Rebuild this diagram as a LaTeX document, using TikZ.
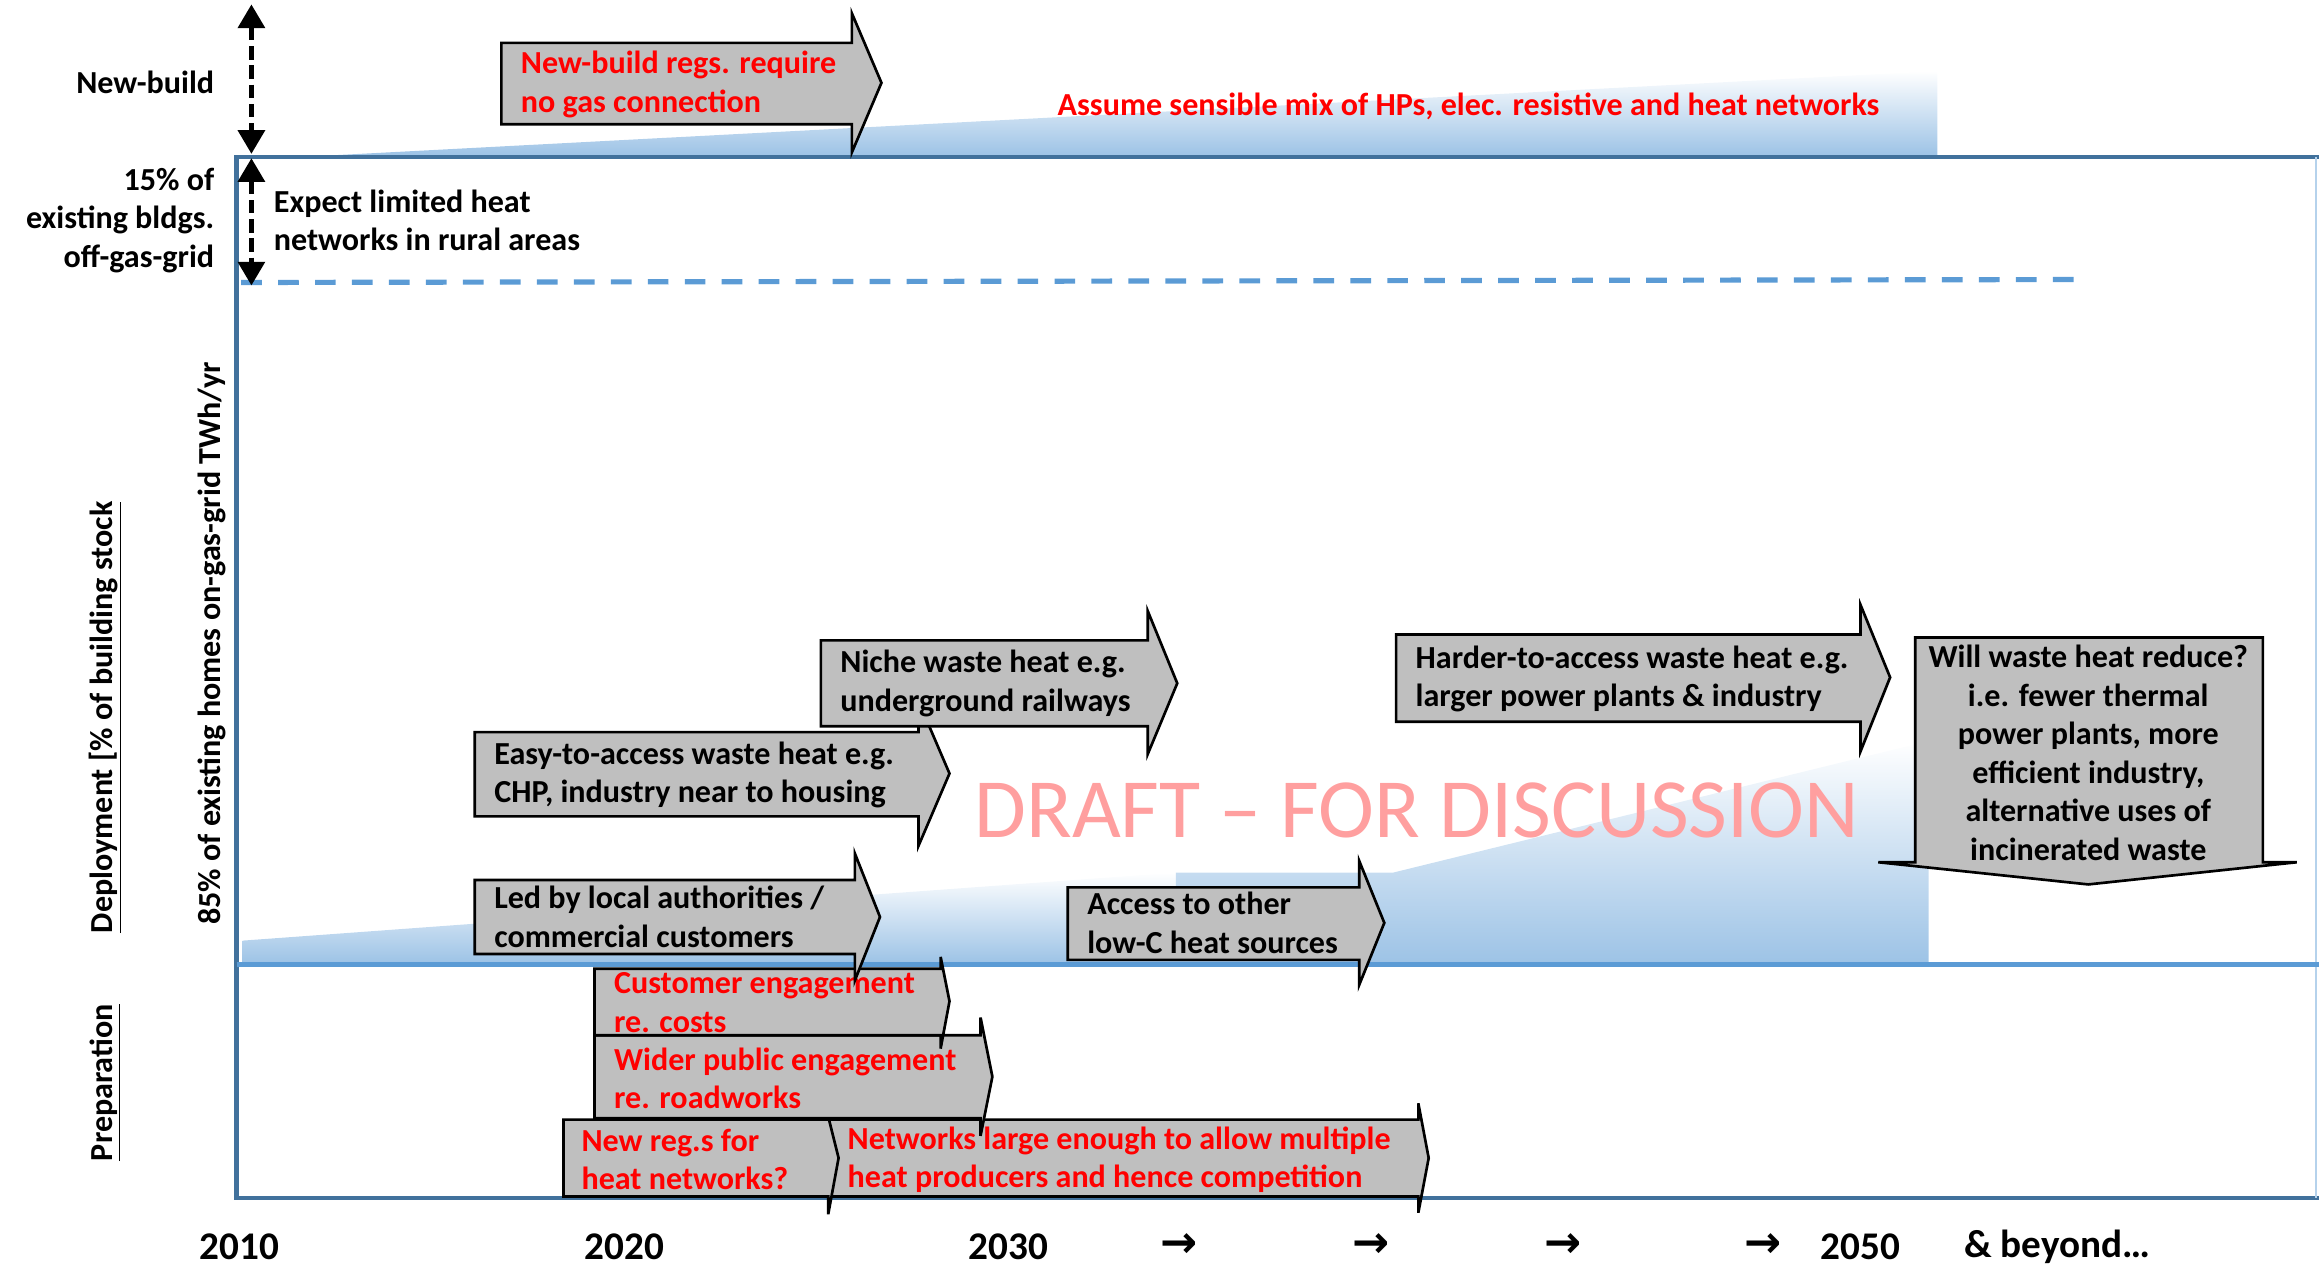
\documentclass[tikz,border=0pt]{standalone}
\usepackage{fontspec}
\setmainfont{Carlito}
\newfontfamily\arrowfont{DejaVu Sans}
\usetikzlibrary{arrows.meta}

\definecolor{framedark}{HTML}{41719C}
\definecolor{framelight}{HTML}{5B9BD5}
\definecolor{shadeblue}{HTML}{9DC3E6}
\definecolor{boxgray}{HTML}{BFBFBF}
\definecolor{draftpink}{HTML}{FF9F9F}
\definecolor{labelred}{HTML}{FF0000}

\newcommand\lblfont{\fontsize{21.7}{26}\selectfont\bfseries}
\newcommand\yearfont{\fontsize{26.5}{30}\selectfont\bfseries}

% right-pointing block arrow: x1 x2 xtip ytop ybot flangetop flangebot ytip
\newcommand\rightblock[8]{%
  \filldraw[blockstyle] (#1,#4) -- (#2,#4) -- (#2,#6) -- (#3,#8) -- (#2,#7)
    -- (#2,#5) -- (#1,#5) -- cycle;}

\tikzset{
  blockstyle/.style={fill=boxgray, draw=black, line width=1.8pt, line join=miter},
  lbl/.style={font=\lblfont, inner sep=0pt, align=left, anchor=west, text=black},
  redlbl/.style={lbl, text=labelred},
  sidelbl/.style={lbl, rotate=90, anchor=center, align=center},
  yearlbl/.style={font=\yearfont, inner sep=0pt, anchor=center},
  steparrow/.style={font=\arrowfont\bfseries\fontsize{30}{34}\selectfont, inner sep=1pt,
    anchor=center},
  dasharrow/.style={black, line width=3pt, dash pattern=on 9pt off 4pt,
    {Triangle[length=16pt,width=18pt]}-{Triangle[length=16pt,width=18pt]}},
  rampshade/.style={top color=white, bottom color=shadeblue, draw=none}
}

\begin{document}
\begin{tikzpicture}[x=1pt, y=-1pt]
\useasboundingbox (0,0) rectangle (1568,857);

% rising deployment wedges
\shade[rampshade] (225,105) -- (1310,48) -- (1310,105) -- cycle;
\shade[rampshade] (164,636) -- (795,590) -- (795,651) -- (164,651) -- cycle;
\shade[rampshade] (795,590) -- (942,590) -- (1304,501) -- (1304,651) -- (795,651) -- cycle;

% boundary between off-gas-grid and on-gas-grid stock
\coordinate (gridL) at (163,191);
\coordinate (gridR) at (1405,189);
\draw[framelight, line width=3.5pt, dash pattern=on 14pt off 11pt] (gridL) -- (gridR);

% chart frame
\draw[framedark, line width=3pt] (1568,106) -- (160,106) -- (160,810) -- (1568,810);
\draw[framelight!45, line width=0.8pt] (1566,106) -- (1566,810);
\draw[framelight, line width=3pt] (160,652) -- (1568,652);

% watermark
\node[font=\fontsize{57}{60}\selectfont, text=draftpink, inner sep=0pt] (draft) at (958,548) {DRAFT – FOR DISCUSSION};

% vertical extent markers
\coordinate (nbtop) at (170,3);
\coordinate (nbbot) at (170,104);
\coordinate (ogtop) at (170,107);
\coordinate (ogbot) at (170,193);
\draw[dasharrow] (nbtop) -- (nbbot);
\draw[dasharrow] (ogtop) -- (ogbot);

% row labels
\node[lbl, anchor=east, align=right] (newbuild) at (145,56) {New-build};
\node[lbl, anchor=east, align=right] (offgas) at (145,149) {15\% of\\existing bldgs.\\off-gas-grid};
\node[lbl] (rural) at (185,149) {Expect limited heat\\networks in rural areas};
\node[sidelbl] (deploy) at (71,485) {\underline{Deployment [\% of building stock}};
\node[sidelbl] (onggrid) at (143,435) {85\% of existing homes on-gas-grid TWh/yr};
\node[sidelbl] (prep) at (71,732) {\underline{Preparation}};

% new-build
\rightblock{339}{576}{596}{29}{84}{9}{103}{56}
\node[redlbl] (nbregs) at (352,57) {New-build regs. require\\no gas connection};
\node[redlbl, anchor=center] (mix) at (993,72) {Assume sensible mix of HPs, elec. resistive and heat networks};

% deployment
\rightblock{321}{621}{642}{495}{552}{474}{572}{523}
\node[lbl] (easy) at (334,524) {Easy-to-access waste heat e.g.\\CHP, industry near to housing};
\rightblock{555}{776}{796}{433}{491}{413}{510}{462}
\node[lbl] (niche) at (568,462) {Niche waste heat e.g.\\underground railways};
\rightblock{944}{1258}{1278}{429}{488}{409}{508}{458}
\node[lbl] (harder) at (957,459) {Harder-to-access waste heat e.g.\\larger power plants \& industry};
\filldraw[blockstyle] (1295,431) -- (1530,431) -- (1530,583) -- (1553,583) -- (1412,598)
  -- (1270,583) -- (1295,583) -- cycle;
\node[lbl, anchor=center, align=center] (reduce) at (1412,509)
  {Will waste heat reduce?\\i.e. fewer thermal\\power plants, more\\efficient industry,\\alternative uses of\\incinerated waste};
\rightblock{722}{919}{936}{600}{649}{582}{666}{624}
\node[lbl] (access) at (735,624) {Access to other\\low-C heat sources};

% preparation
\rightblock{560}{959}{966}{757}{809}{746}{820}{783}
\node[redlbl] (compet) at (573,784) {Networks large enough to allow multiple\\heat producers and hence competition};
\rightblock{381}{560}{567}{757}{809}{755}{821}{783}
\node[redlbl] (newregs) at (393,784) {New reg.s for\\heat networks?};
\rightblock{402}{663}{671}{700}{756}{688}{768}{728}
\node[redlbl] (wider) at (415,729) {Wider public engagement\\re. roadworks};
\rightblock{402}{636}{642}{655}{700}{647}{709}{677}
\node[redlbl] (custom) at (415,678) {Customer engagement\\re. costs};
\rightblock{321}{578}{595}{595}{645}{577}{663}{620}
\node[lbl] (led) at (334,620) {Led by local authorities /\\commercial customers};

% time axis
\node[yearlbl] (y2010) at (162,843) {2010};
\node[yearlbl] (y2020) at (422,843) {2020};
\node[yearlbl] (y2030) at (682,843) {2030};
\node[steparrow] (s1) at (797,842) {→};
\node[steparrow] (s2) at (927,842) {→};
\node[steparrow] (s3) at (1057,842) {→};
\node[steparrow] (s4) at (1192,842) {→};
\node[yearlbl] (y2050) at (1258,843) {2050};
\node[yearlbl, anchor=west] (beyond) at (1328,843) {\& beyond…};
\end{tikzpicture}
\end{document}
